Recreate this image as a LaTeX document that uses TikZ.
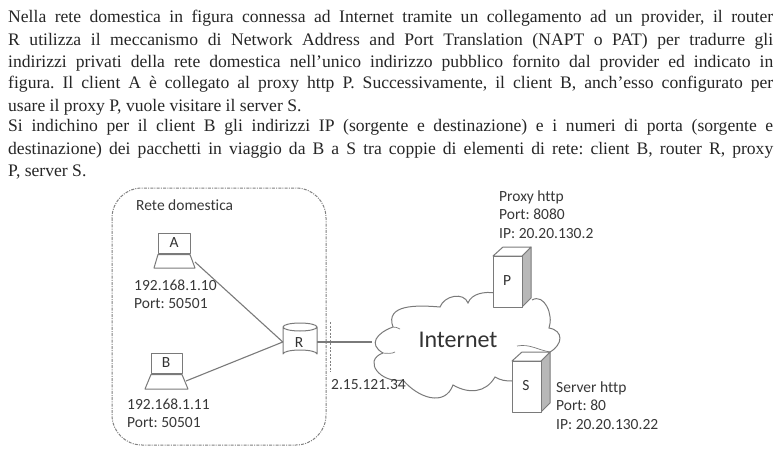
\documentclass[tikz,border=0pt]{standalone}
\usepackage{fontspec}
\setmainfont{Liberation Serif}
\newfontfamily\lab[Ligatures={NoCommon,NoDiscretionary,NoContextual}]{Carlito}
\frenchspacing
\tikzset{
 x=1pt,y=-1pt,
 para/.style={anchor=base west,inner sep=0pt,font=\frenchspacing\fontsize{17.6}{20}\selectfont,text=black!85},
 lbl/.style={anchor=base west,inner sep=0pt,font=\lab\fontsize{15.5}{18}\selectfont,text=black!78,align=left},
 ctr/.style={inner sep=0pt,font=\lab\fontsize{15.5}{17}\selectfont,text=black!80},
 ln/.style={draw=black!52,line width=1.1pt},
 dev/.style={draw=black!52,line width=1pt,fill=white,line join=round},
 side/.style={draw=black!52,line width=1pt,fill=black!28,line join=round},
 zone/.style={draw=black!50,line width=1pt,dash pattern=on 3pt off 1.2pt on 1pt off 1.2pt},
}
\newcommand{\jl}[1]{\makebox[765pt][s]{#1}}
\begin{document}
\begin{tikzpicture}
\useasboundingbox[fill=white] (0,0) rectangle (782,468);
% text
\node[para] (t1) at (8,23) {\jl{Nella rete domestica in figura connessa ad Internet tramite un collegamento ad un provider, il router}};
\node[para] (t2) at (8,46) {\jl{R utilizza il meccanismo di Network Address and Port Translation (NAPT o PAT) per tradurre gli}};
\node[para] (t3) at (8,68) {\jl{indirizzi privati della rete domestica nell’unico indirizzo pubblico fornito dal provider ed indicato in}};
\node[para] (t4) at (8,89) {\jl{figura. Il client A è collegato al proxy http P. Successivamente, il client B, anch’esso configurato per}};
\node[para] (t5) at (8,112) {usare il proxy P, vuole visitare il server S.};
\node[para] (t6) at (8,132) {\jl{Si indichino per il client B gli indirizzi IP (sorgente e destinazione) e i numeri di porta (sorgente e}};
\node[para] (t7) at (8,155) {\jl{destinazione) dei pacchetti in viaggio da B a S tra coppie di elementi di rete: client B, router R, proxy}};
\node[para] (t8) at (8,177) {P, server S.};
% zone
\draw[zone,rounded corners=30pt] (112,188) rectangle (326,445);
\draw[zone,dash pattern=on 2pt off 1.5pt] (330,322) -- (330,372);
% cloud
\draw[ln,line width=1pt] (383,353) to[out=150,in=200,looseness=1.6] (393,327)
 to[out=110,in=175,looseness=1.2] (440,307)
 to[out=70,in=110,looseness=1.1] (468,303)
 to[out=70,in=170,looseness=0.9] (495,293)
 (532,300) to[out=30,in=70,looseness=1.1] (549,328)
 to[out=-10,in=30,looseness=1.6] (550,352)
 (512,381) to[out=180,in=-30] (495,377)
 to[out=-120,in=-30,looseness=1.1] (453,385)
 to[out=-110,in=-50,looseness=1.2] (403,380)
 to[out=190,in=200,looseness=1.7] (383,353);
\draw[ln,line width=0.7pt] (383,353) to[out=-10,in=220,looseness=0.6] (395,352)
 (550,352) to[out=170,in=10] (517,346)
 (393,327) to[out=20,in=170] (400,329);
\node[ctr,font=\lab\fontsize{24}{26}\selectfont] (inet) at (458,340) {Internet};
\coordinate (cl) at (372,342);
% router
\node[inner sep=0pt,minimum width=34pt,minimum height=34pt] (R) at (300,340) {};
\draw[dev] (283,327) -- (283,354) arc[start angle=180,end angle=360,x radius=17,y radius=4]
 -- (317,327) arc[start angle=0,end angle=360,x radius=17,y radius=4];
\node[ctr] (Rl) at (299,343) {R};
% laptops
\coordinate (Ap) at (195,262);
\coordinate (Bp) at (186,381);
\draw[ln] (Ap) -- (R.west |- 0,342);
\draw[ln] (Bp) -- (R.west |- 0,342);
\draw[ln] (R.east |- 0,342) -- (cl);
\draw[dev] (158,233) rectangle (190,253);
\draw[dev] (158,254.5) -- (190,254.5) -- (195,268) -- (154,268) -- cycle;
\node[ctr] (A) at (174,243) {A};
\draw[dev] (151,353) rectangle (182,373);
\draw[dev] (151,374.5) -- (182,374.5) -- (188,389) -- (145,389) -- cycle;
\node[ctr] (B) at (166,363) {B};
% servers
\draw[side] (522,256) -- (531,247) -- (531,298) -- (522,307) -- cycle;
\draw[dev] (493,256) -- (503,247) -- (531,247) -- (522,256) -- cycle;
\draw[dev] (493,256) rectangle (522,307);
\node[ctr] (P) at (507,281) {P};
\draw[side] (541,361) -- (550,352) -- (550,403) -- (541,412) -- cycle;
\draw[dev] (512,361) -- (522,352) -- (550,352) -- (541,361) -- cycle;
\draw[dev] (512,361) rectangle (541,412);
\node[ctr] (S) at (526,386) {S};
% labels
\node[lbl] (rd) at (136,211) {Rete domestica};
\node[lbl] (la1) at (134,290) {192.168.1.10};
\node[lbl] (la2) at (134,308) {Port: 50501};
\node[lbl] (lb1) at (127,409) {192.168.1.11};
\node[lbl] (lb2) at (127,427) {Port: 50501};
\node[lbl] (ip) at (331,389) {2.15.121.34};
\node[lbl] (p1) at (499,201) {Proxy http};
\node[lbl] (p2) at (499,219) {Port: 8080};
\node[lbl] (p3) at (499,238) {IP: 20.20.130.2};
\node[lbl] (s1) at (556,392) {Server http};
\node[lbl] (s2) at (556,410) {Port: 80};
\node[lbl] (s3) at (556,429) {IP: 20.20.130.22};
\end{tikzpicture}
\end{document}
